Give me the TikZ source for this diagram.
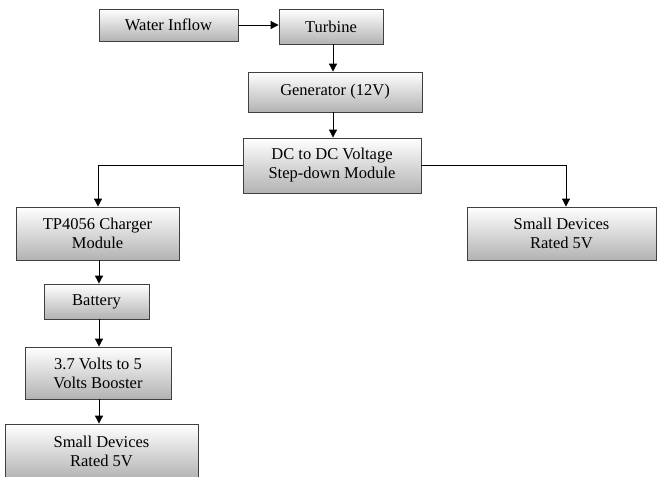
\documentclass[tikz,border=0pt]{standalone}
\usepackage{fontspec}
\setmainfont{Liberation Serif}
\usetikzlibrary{arrows.meta,shadings}
\begin{document}
\begin{tikzpicture}[x=1pt,y=-1pt,
  blk/.style={draw=black!75, line width=0.8pt, top color=white, bottom color=black!30,
    align=center, inner sep=0pt, font=\fontsize{16.5}{19}\selectfont},
  arr/.style={-{Triangle[length=8pt,width=8pt]}, line width=0.8pt, black}]
\useasboundingbox (0,0) rectangle (657,477);
\node[blk, minimum width=139, minimum height=32] (win) at (168.5,25) {Water Inflow};
\node[blk, minimum width=104, minimum height=35] (turb) at (331,26.5) {Turbine};
\node[blk, minimum width=174, minimum height=40] (gen) at (335,92) {Generator (12V)};
\node[blk, minimum width=178, minimum height=55] (dc) at (332,165.5) {DC to DC Voltage\\Step-down Module};
\node[blk, minimum width=163, minimum height=53] (tp) at (97.5,233.5) {TP4056 Charger\\Module};
\node[blk, minimum width=189, minimum height=53] (sdr) at (561.5,233.5) {Small Devices\\Rated 5V};
\node[blk, minimum width=105, minimum height=35] (bat) at (96.5,301.5) {Battery};
\node[blk, minimum width=146, minimum height=52] (boost) at (98,373) {3.7 Volts to 5\\Volts Booster};
\node[blk, minimum width=193, minimum height=55] (sdl) at (101.5,451.5) {Small Devices\\Rated 5V};
\draw[arr] (win.east) -- (turb.west |- win.east);
\draw[arr] (turb.south -| 333,0) -- (gen.north -| 333,0);
\draw[arr] (gen.south -| 333,0) -- (dc.north -| 333,0);
\draw[arr] (dc.west) -| (tp.north -| 98,0);
\draw[arr] (dc.east) -| (sdr.north -| 566,0);
\draw[arr] (tp.south -| 99,0) -- (bat.north -| 99,0);
\draw[arr] (bat.south -| 99,0) -- (boost.north -| 99,0);
\draw[arr] (boost.south -| 99,0) -- (sdl.north -| 99,0);
\end{tikzpicture}
\end{document}
